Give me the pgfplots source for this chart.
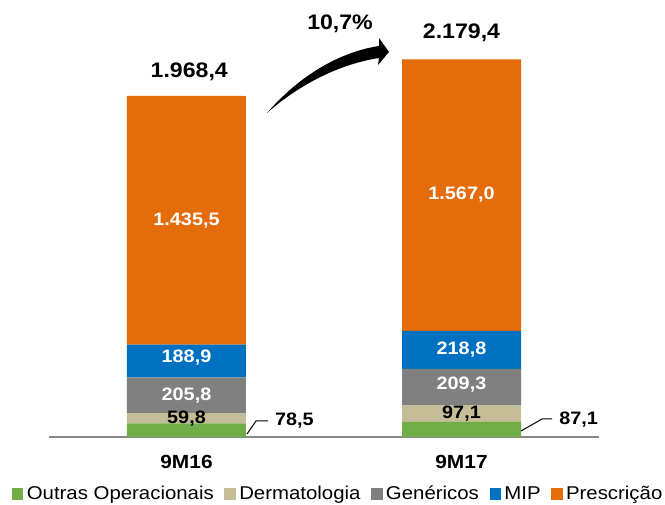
\documentclass[border=0pt]{standalone}
\usepackage{pgfplots}
\pgfplotsset{compat=1.18}
\usepackage{fontspec}
\setmainfont{Liberation Sans}
\usepackage{graphicx}
\definecolor{cgreen}{HTML}{70AD47}
\definecolor{cbeige}{HTML}{C4BD97}
\definecolor{cgray}{HTML}{808080}
\definecolor{cblue}{HTML}{0070C0}
\definecolor{corange}{HTML}{E46C0A}
\definecolor{axisgray}{HTML}{878787}
\newcommand\sx[1]{\scalebox{1.1}[1]{#1}}
\newcommand\lab{\fontsize{13.5}{15}\selectfont\bfseries}
\newcommand\tot{\fontsize{15.75}{18}\selectfont\bfseries}
\newcommand\cat{\fontsize{14.25}{16}\selectfont\bfseries}
\begin{document}
\begin{tikzpicture}
\begin{scope}[shift={(-36.75pt,327.75pt)}, x=0.75pt, y=-0.75pt]
 \path[use as bounding box] (0,0) rectangle (665,505);
\end{scope}
\begin{axis}[
 scale only axis, width=412.5pt, height=327.75pt,
 xmin=-0.5, xmax=1.5, ymin=0, ymax=2521.6,
 ybar stacked, bar width=89.25pt, bar shift=0pt,
 axis x line=bottom, axis y line=none,
 x axis line style={draw=axisgray, line width=1.5pt, -},
 xtick=\empty, ytick=\empty,
 clip=false,
 legend columns=5,
 legend style={at={(0.524,-0.130)}, anchor=center, draw=none, fill=none,
   font=\fontsize{13.9}{16}\selectfont, inner sep=0pt, column sep=0pt,
   nodes={inner sep=0pt},
   /tikz/every odd column/.append style={column sep=2.5pt},
   /tikz/every even column/.append style={column sep=8pt}},
 legend image code/.code={\fill[#1] (0pt,-4.3pt) rectangle (8.6pt,4.3pt);},
]
\addplot[fill=cgreen, draw=none] coordinates {(0,78.5) (1,87.1)};
\addlegendentry{\sx{Outras Operacionais}}
\addplot[fill=cbeige, draw=none] coordinates {(0,59.8) (1,97.1)};
\addlegendentry{\sx{Dermatologia}}
\addplot[fill=cgray, draw=none] coordinates {(0,205.8) (1,209.3)};
\addlegendentry{\sx{Genéricos}}
\addplot[fill=cblue, draw=none] coordinates {(0,188.9) (1,218.8)};
\addlegendentry{\sx{MIP}}
\addplot[fill=corange, draw=none] coordinates {(0,1435.5) (1,1567.0)};
\addlegendentry{\sx{Prescrição}}
% label anchors
\coordinate (a1) at (axis cs:0,1250.8);
\coordinate (a2) at (axis cs:0,460);
\coordinate (a3) at (axis cs:0,241.2);
\coordinate (a4) at (axis cs:0,108.4);
\coordinate (b1) at (axis cs:1,1395.8);
\coordinate (b2) at (axis cs:1,502.9);
\coordinate (b3) at (axis cs:1,300);
\coordinate (b4) at (axis cs:1,135.7);
\coordinate (a5) at (axis cs:0.392,92);
\coordinate (b5) at (axis cs:1.426,98);
\coordinate (at) at (axis cs:0.01,2107);
\coordinate (bt) at (axis cs:1,2331);
\coordinate (ac) at (axis cs:0,-144.3);
\coordinate (bc) at (axis cs:1,-144.3);
\end{axis}
\node[font=\lab, text=white] at (a1) {\sx{1.435,5}};
\node[font=\lab, text=white] at (a2) {\sx{188,9}};
\node[font=\lab, text=white] at (a3) {\sx{205,8}};
\node[font=\lab] at (a4) {\sx{59,8}};
\node[font=\lab, text=white] at (b1) {\sx{1.567,0}};
\node[font=\lab, text=white] at (b2) {\sx{218,8}};
\node[font=\lab, text=white] at (b3) {\sx{209,3}};
\node[font=\lab] at (b4) {\sx{97,1}};
\node[font=\lab] at (a5) {\sx{78,5}};
\node[font=\lab] at (b5) {\sx{87,1}};
\node[font=\tot] at (at) {\sx{1.968,4}};
\node[font=\tot] at (bt) {\sx{2.179,4}};
\node[font=\cat] at (ac) {\sx{9M16}};
\node[font=\cat] at (bc) {\sx{9M17}};
\begin{scope}[shift={(-36.75pt,327.75pt)}, x=0.75pt, y=-0.75pt]
 \fill (267,113) .. controls (300,75) and (340,52) .. (379,46) -- (379,38) -- (389,52) -- (378,65) -- (379,58) .. controls (340,64) and (300,84) .. (267,113) -- cycle;
 \node[font=\tot] at (340,24) {\sx{10,7\%}};
 \draw[line width=0.75pt] (247,434) -- (256,421) -- (268,421);
 \draw[line width=0.75pt] (521,431) -- (542,419) -- (552,419);
\end{scope}
\end{tikzpicture}
\end{document}
